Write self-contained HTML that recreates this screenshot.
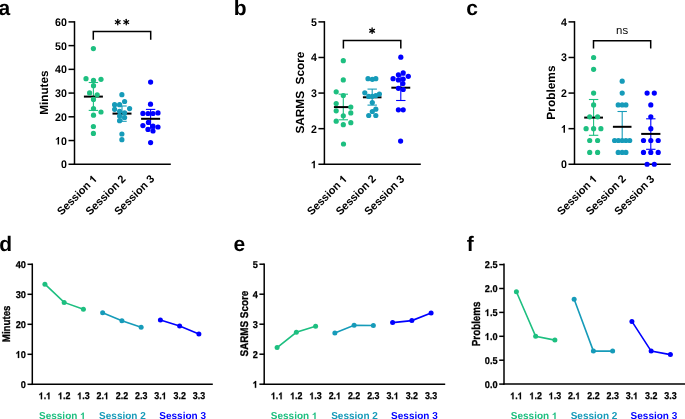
<!DOCTYPE html>
<html><head><meta charset="utf-8"><style>
html,body{margin:0;padding:0;background:#fff;}
body{width:685px;height:419px;overflow:hidden;}
svg{display:block;will-change:transform;text-rendering:geometricPrecision;font-family:"Liberation Sans",sans-serif;}
</style></head><body>
<svg width="685" height="419" viewBox="0 0 685 419">
<rect width="685" height="419" fill="#fff"/>
<text x="-1.40" y="14.80" font-size="21" text-anchor="start" font-weight="bold" fill="#000">a</text>
<text x="233.80" y="14.60" font-size="21" text-anchor="start" font-weight="bold" fill="#000">b</text>
<text x="466.30" y="14.60" font-size="21" text-anchor="start" font-weight="bold" fill="#000">c</text>
<text x="-0.70" y="251.00" font-size="21" text-anchor="start" font-weight="bold" fill="#000">d</text>
<text x="233.40" y="251.00" font-size="21" text-anchor="start" font-weight="bold" fill="#000">e</text>
<text x="466.80" y="250.80" font-size="21" text-anchor="start" font-weight="bold" fill="#000">f</text>
<line x1="74.50" y1="21.15" x2="74.50" y2="165.00" stroke="#000" stroke-width="1.5" stroke-linecap="butt"/>
<line x1="73.75" y1="164.25" x2="170.80" y2="164.25" stroke="#000" stroke-width="1.5" stroke-linecap="butt"/>
<line x1="68.50" y1="164.25" x2="74.50" y2="164.25" stroke="#000" stroke-width="1.5" stroke-linecap="butt"/>
<text x="0.00" y="0.00" font-size="11.0" text-anchor="end" font-weight="bold" fill="#000" transform="translate(66.90 168.25) scale(0.965 1)">0</text>
<line x1="68.50" y1="140.53" x2="74.50" y2="140.53" stroke="#000" stroke-width="1.5" stroke-linecap="butt"/>
<g transform="translate(66.90 144.53) scale(0.965 1)"><text x="0.00" y="0.00" font-size="11.0" text-anchor="end" font-weight="bold" fill="#000"> 0</text><path d="M770 0L490 0L490 1010C395 925 280 862 150 822L150 1065C225 1090 300 1132 380 1192C460 1252 515 1325 545 1409L770 1409Z" fill="#000" transform="translate(-12.250 0.000) scale(0.005371 -0.005371)"/></g>
<line x1="68.50" y1="116.80" x2="74.50" y2="116.80" stroke="#000" stroke-width="1.5" stroke-linecap="butt"/>
<text x="0.00" y="0.00" font-size="11.0" text-anchor="end" font-weight="bold" fill="#000" transform="translate(66.90 120.80) scale(0.965 1)">20</text>
<line x1="68.50" y1="93.08" x2="74.50" y2="93.08" stroke="#000" stroke-width="1.5" stroke-linecap="butt"/>
<text x="0.00" y="0.00" font-size="11.0" text-anchor="end" font-weight="bold" fill="#000" transform="translate(66.90 97.08) scale(0.965 1)">30</text>
<line x1="68.50" y1="69.35" x2="74.50" y2="69.35" stroke="#000" stroke-width="1.5" stroke-linecap="butt"/>
<text x="0.00" y="0.00" font-size="11.0" text-anchor="end" font-weight="bold" fill="#000" transform="translate(66.90 73.35) scale(0.965 1)">40</text>
<line x1="68.50" y1="45.62" x2="74.50" y2="45.62" stroke="#000" stroke-width="1.5" stroke-linecap="butt"/>
<text x="0.00" y="0.00" font-size="11.0" text-anchor="end" font-weight="bold" fill="#000" transform="translate(66.90 49.62) scale(0.965 1)">50</text>
<line x1="68.50" y1="21.90" x2="74.50" y2="21.90" stroke="#000" stroke-width="1.5" stroke-linecap="butt"/>
<text x="0.00" y="0.00" font-size="11.0" text-anchor="end" font-weight="bold" fill="#000" transform="translate(66.90 25.90) scale(0.965 1)">60</text>
<line x1="93.40" y1="82.50" x2="93.40" y2="110.40" stroke="#1dbf80" stroke-width="1.1" stroke-linecap="butt"/>
<line x1="88.70" y1="82.50" x2="98.10" y2="82.50" stroke="#1dbf80" stroke-width="1.1" stroke-linecap="butt"/>
<line x1="88.70" y1="110.40" x2="98.10" y2="110.40" stroke="#1dbf80" stroke-width="1.1" stroke-linecap="butt"/>
<line x1="83.90" y1="96.60" x2="102.90" y2="96.60" stroke="#000" stroke-width="2.0" stroke-linecap="butt"/>
<line x1="122.00" y1="106.00" x2="122.00" y2="121.30" stroke="#169bb9" stroke-width="1.1" stroke-linecap="butt"/>
<line x1="117.30" y1="106.00" x2="126.70" y2="106.00" stroke="#169bb9" stroke-width="1.1" stroke-linecap="butt"/>
<line x1="117.30" y1="121.30" x2="126.70" y2="121.30" stroke="#169bb9" stroke-width="1.1" stroke-linecap="butt"/>
<line x1="112.50" y1="113.60" x2="131.50" y2="113.60" stroke="#000" stroke-width="2.0" stroke-linecap="butt"/>
<line x1="150.60" y1="109.40" x2="150.60" y2="128.20" stroke="#0000ff" stroke-width="1.1" stroke-linecap="butt"/>
<line x1="145.90" y1="109.40" x2="155.30" y2="109.40" stroke="#0000ff" stroke-width="1.1" stroke-linecap="butt"/>
<line x1="145.90" y1="128.20" x2="155.30" y2="128.20" stroke="#0000ff" stroke-width="1.1" stroke-linecap="butt"/>
<line x1="141.10" y1="118.80" x2="160.10" y2="118.80" stroke="#000" stroke-width="2.0" stroke-linecap="butt"/>
<circle cx="93.40" cy="48.60" r="2.6" fill="#1dbf80"/>
<circle cx="86.00" cy="78.70" r="2.6" fill="#1dbf80"/>
<circle cx="101.00" cy="79.30" r="2.6" fill="#1dbf80"/>
<circle cx="93.50" cy="80.30" r="2.6" fill="#1dbf80"/>
<circle cx="93.50" cy="85.70" r="2.6" fill="#1dbf80"/>
<circle cx="89.60" cy="92.90" r="2.6" fill="#1dbf80"/>
<circle cx="97.20" cy="94.80" r="2.6" fill="#1dbf80"/>
<circle cx="93.50" cy="99.40" r="2.6" fill="#1dbf80"/>
<circle cx="93.50" cy="108.60" r="2.6" fill="#1dbf80"/>
<circle cx="101.00" cy="112.00" r="2.6" fill="#1dbf80"/>
<circle cx="93.50" cy="115.20" r="2.6" fill="#1dbf80"/>
<circle cx="93.40" cy="126.50" r="2.6" fill="#1dbf80"/>
<circle cx="93.40" cy="133.40" r="2.6" fill="#1dbf80"/>
<circle cx="121.90" cy="94.70" r="2.6" fill="#169bb9"/>
<circle cx="124.60" cy="101.50" r="2.6" fill="#169bb9"/>
<circle cx="114.60" cy="104.70" r="2.6" fill="#169bb9"/>
<circle cx="119.60" cy="104.70" r="2.6" fill="#169bb9"/>
<circle cx="129.60" cy="108.60" r="2.6" fill="#169bb9"/>
<circle cx="114.60" cy="109.30" r="2.6" fill="#169bb9"/>
<circle cx="119.60" cy="111.40" r="2.6" fill="#169bb9"/>
<circle cx="124.60" cy="112.90" r="2.6" fill="#169bb9"/>
<circle cx="119.60" cy="116.00" r="2.6" fill="#169bb9"/>
<circle cx="124.60" cy="117.50" r="2.6" fill="#169bb9"/>
<circle cx="119.60" cy="120.70" r="2.6" fill="#169bb9"/>
<circle cx="121.90" cy="134.00" r="2.6" fill="#169bb9"/>
<circle cx="121.90" cy="139.70" r="2.6" fill="#169bb9"/>
<circle cx="150.60" cy="82.10" r="2.6" fill="#0000ff"/>
<circle cx="150.50" cy="104.20" r="2.6" fill="#0000ff"/>
<circle cx="142.90" cy="113.40" r="2.6" fill="#0000ff"/>
<circle cx="148.00" cy="113.50" r="2.6" fill="#0000ff"/>
<circle cx="153.00" cy="113.50" r="2.6" fill="#0000ff"/>
<circle cx="158.00" cy="112.90" r="2.6" fill="#0000ff"/>
<circle cx="148.40" cy="122.40" r="2.6" fill="#0000ff"/>
<circle cx="142.90" cy="125.60" r="2.6" fill="#0000ff"/>
<circle cx="153.00" cy="126.20" r="2.6" fill="#0000ff"/>
<circle cx="158.00" cy="127.00" r="2.6" fill="#0000ff"/>
<circle cx="148.00" cy="129.40" r="2.6" fill="#0000ff"/>
<circle cx="153.00" cy="131.00" r="2.6" fill="#0000ff"/>
<circle cx="150.60" cy="142.60" r="2.6" fill="#0000ff"/>
<text x="48.00" y="92.58" font-size="11.75" text-anchor="middle" font-weight="bold" fill="#000" transform="rotate(-90 48.00 92.58)" dominant-baseline="auto">Minutes</text>
<g transform="rotate(-45 97.80 179.55)"><text x="97.80" y="179.55" font-size="11.0" text-anchor="end" font-weight="bold" fill="#000">Session  </text><path d="M770 0L490 0L490 1010C395 925 280 862 150 822L150 1065C225 1090 300 1132 380 1192C460 1252 515 1325 545 1409L770 1409Z" fill="#000" transform="translate(91.675 179.550) scale(0.005371 -0.005371)"/></g>
<text x="126.40" y="179.55" font-size="11.0" text-anchor="end" font-weight="bold" fill="#000" transform="rotate(-45 126.40 179.55)">Session 2</text>
<text x="155.00" y="179.55" font-size="11.0" text-anchor="end" font-weight="bold" fill="#000" transform="rotate(-45 155.00 179.55)">Session 3</text>
<polyline points="93.30,39.80 93.30,31.60 150.70,31.60 150.70,39.80" fill="none" stroke="#000" stroke-width="1.5" stroke-linejoin="miter"/>
<line x1="117.75" y1="19.35" x2="117.75" y2="24.85" stroke="#000" stroke-width="1.3" stroke-linecap="round"/>
<line x1="115.37" y1="20.73" x2="120.13" y2="23.48" stroke="#000" stroke-width="1.3" stroke-linecap="round"/>
<line x1="115.37" y1="23.48" x2="120.13" y2="20.73" stroke="#000" stroke-width="1.3" stroke-linecap="round"/>
<line x1="126.25" y1="19.35" x2="126.25" y2="24.85" stroke="#000" stroke-width="1.3" stroke-linecap="round"/>
<line x1="123.87" y1="20.73" x2="128.63" y2="23.48" stroke="#000" stroke-width="1.3" stroke-linecap="round"/>
<line x1="123.87" y1="23.48" x2="128.63" y2="20.73" stroke="#000" stroke-width="1.3" stroke-linecap="round"/>
<line x1="324.40" y1="21.15" x2="324.40" y2="165.00" stroke="#000" stroke-width="1.5" stroke-linecap="butt"/>
<line x1="323.65" y1="164.25" x2="420.80" y2="164.25" stroke="#000" stroke-width="1.5" stroke-linecap="butt"/>
<line x1="318.40" y1="164.25" x2="324.40" y2="164.25" stroke="#000" stroke-width="1.5" stroke-linecap="butt"/>
<g transform="translate(316.80 168.25) scale(0.965 1)"><text x="0.00" y="0.00" font-size="11.0" text-anchor="end" font-weight="bold" fill="#000"> </text><path d="M770 0L490 0L490 1010C395 925 280 862 150 822L150 1065C225 1090 300 1132 380 1192C460 1252 515 1325 545 1409L770 1409Z" fill="#000" transform="translate(-6.125 0.000) scale(0.005371 -0.005371)"/></g>
<line x1="318.40" y1="128.66" x2="324.40" y2="128.66" stroke="#000" stroke-width="1.5" stroke-linecap="butt"/>
<text x="0.00" y="0.00" font-size="11.0" text-anchor="end" font-weight="bold" fill="#000" transform="translate(316.80 132.66) scale(0.965 1)">2</text>
<line x1="318.40" y1="93.07" x2="324.40" y2="93.07" stroke="#000" stroke-width="1.5" stroke-linecap="butt"/>
<text x="0.00" y="0.00" font-size="11.0" text-anchor="end" font-weight="bold" fill="#000" transform="translate(316.80 97.07) scale(0.965 1)">3</text>
<line x1="318.40" y1="57.48" x2="324.40" y2="57.48" stroke="#000" stroke-width="1.5" stroke-linecap="butt"/>
<text x="0.00" y="0.00" font-size="11.0" text-anchor="end" font-weight="bold" fill="#000" transform="translate(316.80 61.48) scale(0.965 1)">4</text>
<line x1="318.40" y1="21.89" x2="324.40" y2="21.89" stroke="#000" stroke-width="1.5" stroke-linecap="butt"/>
<text x="0.00" y="0.00" font-size="11.0" text-anchor="end" font-weight="bold" fill="#000" transform="translate(316.80 25.89) scale(0.965 1)">5</text>
<line x1="343.30" y1="94.20" x2="343.30" y2="119.80" stroke="#1dbf80" stroke-width="1.1" stroke-linecap="butt"/>
<line x1="338.60" y1="94.20" x2="348.00" y2="94.20" stroke="#1dbf80" stroke-width="1.1" stroke-linecap="butt"/>
<line x1="338.60" y1="119.80" x2="348.00" y2="119.80" stroke="#1dbf80" stroke-width="1.1" stroke-linecap="butt"/>
<line x1="333.90" y1="107.10" x2="352.70" y2="107.10" stroke="#000" stroke-width="2.0" stroke-linecap="butt"/>
<line x1="372.20" y1="89.10" x2="372.20" y2="105.10" stroke="#169bb9" stroke-width="1.1" stroke-linecap="butt"/>
<line x1="367.50" y1="89.10" x2="376.90" y2="89.10" stroke="#169bb9" stroke-width="1.1" stroke-linecap="butt"/>
<line x1="367.50" y1="105.10" x2="376.90" y2="105.10" stroke="#169bb9" stroke-width="1.1" stroke-linecap="butt"/>
<line x1="362.90" y1="97.30" x2="381.50" y2="97.30" stroke="#000" stroke-width="2.0" stroke-linecap="butt"/>
<line x1="400.80" y1="75.00" x2="400.80" y2="100.50" stroke="#0000ff" stroke-width="1.1" stroke-linecap="butt"/>
<line x1="396.10" y1="75.00" x2="405.50" y2="75.00" stroke="#0000ff" stroke-width="1.1" stroke-linecap="butt"/>
<line x1="396.10" y1="100.50" x2="405.50" y2="100.50" stroke="#0000ff" stroke-width="1.1" stroke-linecap="butt"/>
<line x1="391.35" y1="87.70" x2="410.25" y2="87.70" stroke="#000" stroke-width="2.0" stroke-linecap="butt"/>
<circle cx="343.30" cy="60.70" r="2.6" fill="#1dbf80"/>
<circle cx="343.30" cy="79.90" r="2.6" fill="#1dbf80"/>
<circle cx="336.20" cy="91.80" r="2.6" fill="#1dbf80"/>
<circle cx="343.30" cy="95.50" r="2.6" fill="#1dbf80"/>
<circle cx="336.20" cy="103.50" r="2.6" fill="#1dbf80"/>
<circle cx="350.80" cy="107.10" r="2.6" fill="#1dbf80"/>
<circle cx="336.20" cy="110.80" r="2.6" fill="#1dbf80"/>
<circle cx="350.80" cy="112.90" r="2.6" fill="#1dbf80"/>
<circle cx="343.30" cy="115.80" r="2.6" fill="#1dbf80"/>
<circle cx="336.20" cy="121.20" r="2.6" fill="#1dbf80"/>
<circle cx="350.80" cy="122.70" r="2.6" fill="#1dbf80"/>
<circle cx="343.30" cy="124.70" r="2.6" fill="#1dbf80"/>
<circle cx="343.50" cy="144.00" r="2.6" fill="#1dbf80"/>
<circle cx="368.00" cy="78.70" r="2.6" fill="#169bb9"/>
<circle cx="372.30" cy="79.30" r="2.6" fill="#169bb9"/>
<circle cx="375.80" cy="78.70" r="2.6" fill="#169bb9"/>
<circle cx="364.80" cy="92.80" r="2.6" fill="#169bb9"/>
<circle cx="368.70" cy="96.40" r="2.6" fill="#169bb9"/>
<circle cx="372.30" cy="96.30" r="2.6" fill="#169bb9"/>
<circle cx="375.80" cy="95.60" r="2.6" fill="#169bb9"/>
<circle cx="379.40" cy="94.10" r="2.6" fill="#169bb9"/>
<circle cx="372.30" cy="102.60" r="2.6" fill="#169bb9"/>
<circle cx="375.80" cy="109.20" r="2.6" fill="#169bb9"/>
<circle cx="372.30" cy="111.50" r="2.6" fill="#169bb9"/>
<circle cx="368.70" cy="115.50" r="2.6" fill="#169bb9"/>
<circle cx="375.80" cy="115.50" r="2.6" fill="#169bb9"/>
<circle cx="400.80" cy="57.20" r="2.6" fill="#0000ff"/>
<circle cx="403.20" cy="72.80" r="2.6" fill="#0000ff"/>
<circle cx="398.40" cy="74.80" r="2.6" fill="#0000ff"/>
<circle cx="408.30" cy="76.30" r="2.6" fill="#0000ff"/>
<circle cx="393.10" cy="78.70" r="2.6" fill="#0000ff"/>
<circle cx="398.40" cy="79.90" r="2.6" fill="#0000ff"/>
<circle cx="403.20" cy="79.10" r="2.6" fill="#0000ff"/>
<circle cx="402.90" cy="83.50" r="2.6" fill="#0000ff"/>
<circle cx="398.40" cy="88.30" r="2.6" fill="#0000ff"/>
<circle cx="403.20" cy="89.50" r="2.6" fill="#0000ff"/>
<circle cx="398.40" cy="109.80" r="2.6" fill="#0000ff"/>
<circle cx="403.20" cy="109.80" r="2.6" fill="#0000ff"/>
<circle cx="400.60" cy="141.10" r="2.6" fill="#0000ff"/>
<text x="304.50" y="92.58" font-size="11.8" text-anchor="middle" font-weight="bold" fill="#000" transform="rotate(-90 304.50 92.58)" dominant-baseline="auto">SARMS  Score</text>
<g transform="rotate(-45 347.80 179.55)"><text x="347.80" y="179.55" font-size="11.0" text-anchor="end" font-weight="bold" fill="#000">Session  </text><path d="M770 0L490 0L490 1010C395 925 280 862 150 822L150 1065C225 1090 300 1132 380 1192C460 1252 515 1325 545 1409L770 1409Z" fill="#000" transform="translate(341.675 179.550) scale(0.005371 -0.005371)"/></g>
<text x="376.50" y="179.55" font-size="11.0" text-anchor="end" font-weight="bold" fill="#000" transform="rotate(-45 376.50 179.55)">Session 2</text>
<text x="405.20" y="179.55" font-size="11.0" text-anchor="end" font-weight="bold" fill="#000" transform="rotate(-45 405.20 179.55)">Session 3</text>
<polyline points="343.40,48.50 343.40,40.60 400.80,40.60 400.80,48.50" fill="none" stroke="#000" stroke-width="1.5" stroke-linejoin="miter"/>
<line x1="372.10" y1="27.95" x2="372.10" y2="33.45" stroke="#000" stroke-width="1.3" stroke-linecap="round"/>
<line x1="369.72" y1="29.32" x2="374.48" y2="32.07" stroke="#000" stroke-width="1.3" stroke-linecap="round"/>
<line x1="369.72" y1="32.07" x2="374.48" y2="29.32" stroke="#000" stroke-width="1.3" stroke-linecap="round"/>
<line x1="574.50" y1="21.15" x2="574.50" y2="165.00" stroke="#000" stroke-width="1.5" stroke-linecap="butt"/>
<line x1="573.75" y1="164.25" x2="670.80" y2="164.25" stroke="#000" stroke-width="1.5" stroke-linecap="butt"/>
<line x1="568.50" y1="164.25" x2="574.50" y2="164.25" stroke="#000" stroke-width="1.5" stroke-linecap="butt"/>
<text x="0.00" y="0.00" font-size="11.0" text-anchor="end" font-weight="bold" fill="#000" transform="translate(566.90 168.25) scale(0.965 1)">0</text>
<line x1="568.50" y1="128.66" x2="574.50" y2="128.66" stroke="#000" stroke-width="1.5" stroke-linecap="butt"/>
<g transform="translate(566.90 132.66) scale(0.965 1)"><text x="0.00" y="0.00" font-size="11.0" text-anchor="end" font-weight="bold" fill="#000"> </text><path d="M770 0L490 0L490 1010C395 925 280 862 150 822L150 1065C225 1090 300 1132 380 1192C460 1252 515 1325 545 1409L770 1409Z" fill="#000" transform="translate(-6.125 0.000) scale(0.005371 -0.005371)"/></g>
<line x1="568.50" y1="93.07" x2="574.50" y2="93.07" stroke="#000" stroke-width="1.5" stroke-linecap="butt"/>
<text x="0.00" y="0.00" font-size="11.0" text-anchor="end" font-weight="bold" fill="#000" transform="translate(566.90 97.07) scale(0.965 1)">2</text>
<line x1="568.50" y1="57.48" x2="574.50" y2="57.48" stroke="#000" stroke-width="1.5" stroke-linecap="butt"/>
<text x="0.00" y="0.00" font-size="11.0" text-anchor="end" font-weight="bold" fill="#000" transform="translate(566.90 61.48) scale(0.965 1)">3</text>
<line x1="568.50" y1="21.89" x2="574.50" y2="21.89" stroke="#000" stroke-width="1.5" stroke-linecap="butt"/>
<text x="0.00" y="0.00" font-size="11.0" text-anchor="end" font-weight="bold" fill="#000" transform="translate(566.90 25.89) scale(0.965 1)">4</text>
<line x1="593.60" y1="99.50" x2="593.60" y2="135.30" stroke="#1dbf80" stroke-width="1.1" stroke-linecap="butt"/>
<line x1="588.90" y1="99.50" x2="598.30" y2="99.50" stroke="#1dbf80" stroke-width="1.1" stroke-linecap="butt"/>
<line x1="588.90" y1="135.30" x2="598.30" y2="135.30" stroke="#1dbf80" stroke-width="1.1" stroke-linecap="butt"/>
<line x1="584.20" y1="117.60" x2="603.00" y2="117.60" stroke="#000" stroke-width="2.0" stroke-linecap="butt"/>
<line x1="622.20" y1="111.50" x2="622.20" y2="141.50" stroke="#169bb9" stroke-width="1.1" stroke-linecap="butt"/>
<line x1="617.50" y1="111.50" x2="626.90" y2="111.50" stroke="#169bb9" stroke-width="1.1" stroke-linecap="butt"/>
<line x1="617.50" y1="141.50" x2="626.90" y2="141.50" stroke="#169bb9" stroke-width="1.1" stroke-linecap="butt"/>
<line x1="612.90" y1="126.80" x2="631.50" y2="126.80" stroke="#000" stroke-width="2.0" stroke-linecap="butt"/>
<line x1="650.80" y1="118.80" x2="650.80" y2="149.30" stroke="#0000ff" stroke-width="1.1" stroke-linecap="butt"/>
<line x1="646.10" y1="118.80" x2="655.50" y2="118.80" stroke="#0000ff" stroke-width="1.1" stroke-linecap="butt"/>
<line x1="646.10" y1="149.30" x2="655.50" y2="149.30" stroke="#0000ff" stroke-width="1.1" stroke-linecap="butt"/>
<line x1="641.20" y1="133.90" x2="660.40" y2="133.90" stroke="#000" stroke-width="2.0" stroke-linecap="butt"/>
<circle cx="593.60" cy="57.48" r="2.6" fill="#1dbf80"/>
<circle cx="593.60" cy="69.34" r="2.6" fill="#1dbf80"/>
<circle cx="593.60" cy="93.07" r="2.6" fill="#1dbf80"/>
<circle cx="593.60" cy="104.93" r="2.6" fill="#1dbf80"/>
<circle cx="589.70" cy="116.80" r="2.6" fill="#1dbf80"/>
<circle cx="597.60" cy="116.80" r="2.6" fill="#1dbf80"/>
<circle cx="586.10" cy="128.66" r="2.6" fill="#1dbf80"/>
<circle cx="593.60" cy="128.66" r="2.6" fill="#1dbf80"/>
<circle cx="600.90" cy="128.66" r="2.6" fill="#1dbf80"/>
<circle cx="589.70" cy="140.52" r="2.6" fill="#1dbf80"/>
<circle cx="597.60" cy="140.52" r="2.6" fill="#1dbf80"/>
<circle cx="589.70" cy="152.39" r="2.6" fill="#1dbf80"/>
<circle cx="597.60" cy="152.39" r="2.6" fill="#1dbf80"/>
<circle cx="622.20" cy="81.21" r="2.6" fill="#169bb9"/>
<circle cx="622.20" cy="93.07" r="2.6" fill="#169bb9"/>
<circle cx="618.20" cy="104.93" r="2.6" fill="#169bb9"/>
<circle cx="622.20" cy="104.93" r="2.6" fill="#169bb9"/>
<circle cx="625.90" cy="104.93" r="2.6" fill="#169bb9"/>
<circle cx="614.60" cy="140.52" r="2.6" fill="#169bb9"/>
<circle cx="618.40" cy="140.52" r="2.6" fill="#169bb9"/>
<circle cx="622.20" cy="140.52" r="2.6" fill="#169bb9"/>
<circle cx="625.90" cy="140.52" r="2.6" fill="#169bb9"/>
<circle cx="629.70" cy="140.52" r="2.6" fill="#169bb9"/>
<circle cx="618.20" cy="152.39" r="2.6" fill="#169bb9"/>
<circle cx="622.20" cy="152.39" r="2.6" fill="#169bb9"/>
<circle cx="625.90" cy="152.39" r="2.6" fill="#169bb9"/>
<circle cx="647.10" cy="93.07" r="2.6" fill="#0000ff"/>
<circle cx="654.30" cy="93.07" r="2.6" fill="#0000ff"/>
<circle cx="650.80" cy="104.93" r="2.6" fill="#0000ff"/>
<circle cx="650.80" cy="116.80" r="2.6" fill="#0000ff"/>
<circle cx="650.80" cy="128.66" r="2.6" fill="#0000ff"/>
<circle cx="643.50" cy="140.52" r="2.6" fill="#0000ff"/>
<circle cx="650.80" cy="140.52" r="2.6" fill="#0000ff"/>
<circle cx="658.20" cy="140.52" r="2.6" fill="#0000ff"/>
<circle cx="643.50" cy="152.39" r="2.6" fill="#0000ff"/>
<circle cx="650.80" cy="152.39" r="2.6" fill="#0000ff"/>
<circle cx="658.20" cy="152.39" r="2.6" fill="#0000ff"/>
<circle cx="647.10" cy="164.25" r="2.6" fill="#0000ff"/>
<circle cx="654.30" cy="164.25" r="2.6" fill="#0000ff"/>
<text x="554.60" y="92.58" font-size="11.9" text-anchor="middle" font-weight="bold" fill="#000" transform="rotate(-90 554.60 92.58)" dominant-baseline="auto">Problems</text>
<g transform="rotate(-45 597.80 179.55)"><text x="597.80" y="179.55" font-size="11.0" text-anchor="end" font-weight="bold" fill="#000">Session  </text><path d="M770 0L490 0L490 1010C395 925 280 862 150 822L150 1065C225 1090 300 1132 380 1192C460 1252 515 1325 545 1409L770 1409Z" fill="#000" transform="translate(591.675 179.550) scale(0.005371 -0.005371)"/></g>
<text x="626.50" y="179.55" font-size="11.0" text-anchor="end" font-weight="bold" fill="#000" transform="rotate(-45 626.50 179.55)">Session 2</text>
<text x="655.20" y="179.55" font-size="11.0" text-anchor="end" font-weight="bold" fill="#000" transform="rotate(-45 655.20 179.55)">Session 3</text>
<polyline points="593.50,48.50 593.50,40.85 650.70,40.85 650.70,48.50" fill="none" stroke="#000" stroke-width="1.5" stroke-linejoin="miter"/>
<text x="622.10" y="33.60" font-size="11.4" text-anchor="middle" font-weight="normal" fill="#000">ns</text>
<line x1="32.30" y1="263.45" x2="32.30" y2="385.05" stroke="#000" stroke-width="1.5" stroke-linecap="butt"/>
<line x1="31.55" y1="384.30" x2="212.80" y2="384.30" stroke="#000" stroke-width="1.5" stroke-linecap="butt"/>
<line x1="27.50" y1="384.30" x2="32.30" y2="384.30" stroke="#000" stroke-width="1.5" stroke-linecap="butt"/>
<text x="0.00" y="0.00" font-size="9.9" text-anchor="end" font-weight="bold" fill="#000" transform="translate(25.90 387.90) scale(0.93 1)" stroke="#000" stroke-width="0.25">0</text>
<line x1="27.50" y1="354.30" x2="32.30" y2="354.30" stroke="#000" stroke-width="1.5" stroke-linecap="butt"/>
<g transform="translate(25.90 357.90) scale(0.93 1)"><text x="0.00" y="0.00" font-size="9.9" text-anchor="end" font-weight="bold" fill="#000" stroke="#000" stroke-width="0.25"> 0</text><path d="M770 0L490 0L490 1010C395 925 280 862 150 822L150 1065C225 1090 300 1132 380 1192C460 1252 515 1325 545 1409L770 1409Z" fill="#000" stroke="#000" stroke-width="51.7" transform="translate(-10.984 0.000) scale(0.004834 -0.004834)"/></g>
<line x1="27.50" y1="324.30" x2="32.30" y2="324.30" stroke="#000" stroke-width="1.5" stroke-linecap="butt"/>
<text x="0.00" y="0.00" font-size="9.9" text-anchor="end" font-weight="bold" fill="#000" transform="translate(25.90 327.90) scale(0.93 1)" stroke="#000" stroke-width="0.25">20</text>
<line x1="27.50" y1="294.30" x2="32.30" y2="294.30" stroke="#000" stroke-width="1.5" stroke-linecap="butt"/>
<text x="0.00" y="0.00" font-size="9.9" text-anchor="end" font-weight="bold" fill="#000" transform="translate(25.90 297.90) scale(0.93 1)" stroke="#000" stroke-width="0.25">30</text>
<line x1="27.50" y1="264.30" x2="32.30" y2="264.30" stroke="#000" stroke-width="1.5" stroke-linecap="butt"/>
<text x="0.00" y="0.00" font-size="9.9" text-anchor="end" font-weight="bold" fill="#000" transform="translate(25.90 267.90) scale(0.93 1)" stroke="#000" stroke-width="0.25">40</text>
<text x="0" y="0" font-size="11.0" text-anchor="middle" font-weight="bold" fill="#000" stroke="#000" stroke-width="0.3" transform="translate(9.90 323.85) rotate(-90) scale(0.88 1)">Minutes</text>
<polyline points="44.90,284.20 64.15,302.40 83.40,309.30" fill="none" stroke="#1dbf80" stroke-width="1.6" stroke-linejoin="miter"/>
<circle cx="44.90" cy="284.20" r="2.5" fill="#1dbf80"/>
<circle cx="64.15" cy="302.40" r="2.5" fill="#1dbf80"/>
<circle cx="83.40" cy="309.30" r="2.5" fill="#1dbf80"/>
<polyline points="102.65,312.70 121.90,320.70 141.15,327.30" fill="none" stroke="#169bb9" stroke-width="1.6" stroke-linejoin="miter"/>
<circle cx="102.65" cy="312.70" r="2.5" fill="#169bb9"/>
<circle cx="121.90" cy="320.70" r="2.5" fill="#169bb9"/>
<circle cx="141.15" cy="327.30" r="2.5" fill="#169bb9"/>
<polyline points="160.40,320.10 179.65,326.00 198.90,333.90" fill="none" stroke="#0000ff" stroke-width="1.6" stroke-linejoin="miter"/>
<circle cx="160.40" cy="320.10" r="2.5" fill="#0000ff"/>
<circle cx="179.65" cy="326.00" r="2.5" fill="#0000ff"/>
<circle cx="198.90" cy="333.90" r="2.5" fill="#0000ff"/>
<g transform="translate(44.90 399.20) scale(0.9 1)"><text x="0.00" y="0.00" font-size="9.9" text-anchor="middle" font-weight="bold" fill="#000" stroke="#000" stroke-width="0.25"> . </text><path d="M770 0L490 0L490 1010C395 925 280 862 150 822L150 1065C225 1090 300 1132 380 1192C460 1252 515 1325 545 1409L770 1409Z" fill="#000" stroke="#000" stroke-width="51.7" transform="translate(-6.867 0.000) scale(0.004834 -0.004834)"/><path d="M770 0L490 0L490 1010C395 925 280 862 150 822L150 1065C225 1090 300 1132 380 1192C460 1252 515 1325 545 1409L770 1409Z" fill="#000" stroke="#000" stroke-width="51.7" transform="translate(1.367 0.000) scale(0.004834 -0.004834)"/></g>
<g transform="translate(64.15 399.20) scale(0.9 1)"><text x="0.00" y="0.00" font-size="9.9" text-anchor="middle" font-weight="bold" fill="#000" stroke="#000" stroke-width="0.25"> .2</text><path d="M770 0L490 0L490 1010C395 925 280 862 150 822L150 1065C225 1090 300 1132 380 1192C460 1252 515 1325 545 1409L770 1409Z" fill="#000" stroke="#000" stroke-width="51.7" transform="translate(-6.867 0.000) scale(0.004834 -0.004834)"/></g>
<g transform="translate(83.40 399.20) scale(0.9 1)"><text x="0.00" y="0.00" font-size="9.9" text-anchor="middle" font-weight="bold" fill="#000" stroke="#000" stroke-width="0.25"> .3</text><path d="M770 0L490 0L490 1010C395 925 280 862 150 822L150 1065C225 1090 300 1132 380 1192C460 1252 515 1325 545 1409L770 1409Z" fill="#000" stroke="#000" stroke-width="51.7" transform="translate(-6.867 0.000) scale(0.004834 -0.004834)"/></g>
<g transform="translate(102.65 399.20) scale(0.9 1)"><text x="0.00" y="0.00" font-size="9.9" text-anchor="middle" font-weight="bold" fill="#000" stroke="#000" stroke-width="0.25">2. </text><path d="M770 0L490 0L490 1010C395 925 280 862 150 822L150 1065C225 1090 300 1132 380 1192C460 1252 515 1325 545 1409L770 1409Z" fill="#000" stroke="#000" stroke-width="51.7" transform="translate(1.367 0.000) scale(0.004834 -0.004834)"/></g>
<text x="0.00" y="0.00" font-size="9.9" text-anchor="middle" font-weight="bold" fill="#000" transform="translate(121.90 399.20) scale(0.9 1)" stroke="#000" stroke-width="0.25">2.2</text>
<text x="0.00" y="0.00" font-size="9.9" text-anchor="middle" font-weight="bold" fill="#000" transform="translate(141.15 399.20) scale(0.9 1)" stroke="#000" stroke-width="0.25">2.3</text>
<g transform="translate(160.40 399.20) scale(0.9 1)"><text x="0.00" y="0.00" font-size="9.9" text-anchor="middle" font-weight="bold" fill="#000" stroke="#000" stroke-width="0.25">3. </text><path d="M770 0L490 0L490 1010C395 925 280 862 150 822L150 1065C225 1090 300 1132 380 1192C460 1252 515 1325 545 1409L770 1409Z" fill="#000" stroke="#000" stroke-width="51.7" transform="translate(1.367 0.000) scale(0.004834 -0.004834)"/></g>
<text x="0.00" y="0.00" font-size="9.9" text-anchor="middle" font-weight="bold" fill="#000" transform="translate(179.65 399.20) scale(0.9 1)" stroke="#000" stroke-width="0.25">3.2</text>
<text x="0.00" y="0.00" font-size="9.9" text-anchor="middle" font-weight="bold" fill="#000" transform="translate(198.90 399.20) scale(0.9 1)" stroke="#000" stroke-width="0.25">3.3</text>
<text x="39.00" y="419.30" font-size="10.0" text-anchor="start" font-weight="bold" fill="#1dbf80">Session  </text><path d="M770 0L490 0L490 1010C395 925 280 862 150 822L150 1065C225 1090 300 1132 380 1192C460 1252 515 1325 545 1409L770 1409Z" fill="#1dbf80" transform="translate(80.125 419.300) scale(0.004883 -0.004883)"/>
<text x="99.10" y="419.30" font-size="10.0" text-anchor="start" font-weight="bold" fill="#169bb9">Session 2</text>
<text x="159.30" y="419.30" font-size="10.0" text-anchor="start" font-weight="bold" fill="#0000ff">Session 3</text>
<line x1="264.20" y1="263.45" x2="264.20" y2="384.95" stroke="#000" stroke-width="1.5" stroke-linecap="butt"/>
<line x1="263.45" y1="384.20" x2="445.20" y2="384.20" stroke="#000" stroke-width="1.5" stroke-linecap="butt"/>
<line x1="259.40" y1="384.20" x2="264.20" y2="384.20" stroke="#000" stroke-width="1.5" stroke-linecap="butt"/>
<g transform="translate(257.80 387.80) scale(0.93 1)"><text x="0.00" y="0.00" font-size="9.9" text-anchor="end" font-weight="bold" fill="#000" stroke="#000" stroke-width="0.25"> </text><path d="M770 0L490 0L490 1010C395 925 280 862 150 822L150 1065C225 1090 300 1132 380 1192C460 1252 515 1325 545 1409L770 1409Z" fill="#000" stroke="#000" stroke-width="51.7" transform="translate(-5.500 0.000) scale(0.004834 -0.004834)"/></g>
<line x1="259.40" y1="354.20" x2="264.20" y2="354.20" stroke="#000" stroke-width="1.5" stroke-linecap="butt"/>
<text x="0.00" y="0.00" font-size="9.9" text-anchor="end" font-weight="bold" fill="#000" transform="translate(257.80 357.80) scale(0.93 1)" stroke="#000" stroke-width="0.25">2</text>
<line x1="259.40" y1="324.20" x2="264.20" y2="324.20" stroke="#000" stroke-width="1.5" stroke-linecap="butt"/>
<text x="0.00" y="0.00" font-size="9.9" text-anchor="end" font-weight="bold" fill="#000" transform="translate(257.80 327.80) scale(0.93 1)" stroke="#000" stroke-width="0.25">3</text>
<line x1="259.40" y1="294.20" x2="264.20" y2="294.20" stroke="#000" stroke-width="1.5" stroke-linecap="butt"/>
<text x="0.00" y="0.00" font-size="9.9" text-anchor="end" font-weight="bold" fill="#000" transform="translate(257.80 297.80) scale(0.93 1)" stroke="#000" stroke-width="0.25">4</text>
<line x1="259.40" y1="264.20" x2="264.20" y2="264.20" stroke="#000" stroke-width="1.5" stroke-linecap="butt"/>
<text x="0.00" y="0.00" font-size="9.9" text-anchor="end" font-weight="bold" fill="#000" transform="translate(257.80 267.80) scale(0.93 1)" stroke="#000" stroke-width="0.25">5</text>
<text x="0" y="0" font-size="11.0" text-anchor="middle" font-weight="bold" fill="#000" stroke="#000" stroke-width="0.3" transform="translate(248.10 323.60) rotate(-90) scale(0.895 1)">SARMS Score</text>
<polyline points="277.10,347.60 296.35,332.30 315.60,326.30" fill="none" stroke="#1dbf80" stroke-width="1.6" stroke-linejoin="miter"/>
<circle cx="277.10" cy="347.60" r="2.5" fill="#1dbf80"/>
<circle cx="296.35" cy="332.30" r="2.5" fill="#1dbf80"/>
<circle cx="315.60" cy="326.30" r="2.5" fill="#1dbf80"/>
<polyline points="334.85,333.10 354.10,325.20 373.35,325.50" fill="none" stroke="#169bb9" stroke-width="1.6" stroke-linejoin="miter"/>
<circle cx="334.85" cy="333.10" r="2.5" fill="#169bb9"/>
<circle cx="354.10" cy="325.20" r="2.5" fill="#169bb9"/>
<circle cx="373.35" cy="325.50" r="2.5" fill="#169bb9"/>
<polyline points="392.60,322.60 411.85,320.60 431.10,312.90" fill="none" stroke="#0000ff" stroke-width="1.6" stroke-linejoin="miter"/>
<circle cx="392.60" cy="322.60" r="2.5" fill="#0000ff"/>
<circle cx="411.85" cy="320.60" r="2.5" fill="#0000ff"/>
<circle cx="431.10" cy="312.90" r="2.5" fill="#0000ff"/>
<g transform="translate(277.10 399.20) scale(0.9 1)"><text x="0.00" y="0.00" font-size="9.9" text-anchor="middle" font-weight="bold" fill="#000" stroke="#000" stroke-width="0.25"> . </text><path d="M770 0L490 0L490 1010C395 925 280 862 150 822L150 1065C225 1090 300 1132 380 1192C460 1252 515 1325 545 1409L770 1409Z" fill="#000" stroke="#000" stroke-width="51.7" transform="translate(-6.867 0.000) scale(0.004834 -0.004834)"/><path d="M770 0L490 0L490 1010C395 925 280 862 150 822L150 1065C225 1090 300 1132 380 1192C460 1252 515 1325 545 1409L770 1409Z" fill="#000" stroke="#000" stroke-width="51.7" transform="translate(1.367 0.000) scale(0.004834 -0.004834)"/></g>
<g transform="translate(296.35 399.20) scale(0.9 1)"><text x="0.00" y="0.00" font-size="9.9" text-anchor="middle" font-weight="bold" fill="#000" stroke="#000" stroke-width="0.25"> .2</text><path d="M770 0L490 0L490 1010C395 925 280 862 150 822L150 1065C225 1090 300 1132 380 1192C460 1252 515 1325 545 1409L770 1409Z" fill="#000" stroke="#000" stroke-width="51.7" transform="translate(-6.867 0.000) scale(0.004834 -0.004834)"/></g>
<g transform="translate(315.60 399.20) scale(0.9 1)"><text x="0.00" y="0.00" font-size="9.9" text-anchor="middle" font-weight="bold" fill="#000" stroke="#000" stroke-width="0.25"> .3</text><path d="M770 0L490 0L490 1010C395 925 280 862 150 822L150 1065C225 1090 300 1132 380 1192C460 1252 515 1325 545 1409L770 1409Z" fill="#000" stroke="#000" stroke-width="51.7" transform="translate(-6.867 0.000) scale(0.004834 -0.004834)"/></g>
<g transform="translate(334.85 399.20) scale(0.9 1)"><text x="0.00" y="0.00" font-size="9.9" text-anchor="middle" font-weight="bold" fill="#000" stroke="#000" stroke-width="0.25">2. </text><path d="M770 0L490 0L490 1010C395 925 280 862 150 822L150 1065C225 1090 300 1132 380 1192C460 1252 515 1325 545 1409L770 1409Z" fill="#000" stroke="#000" stroke-width="51.7" transform="translate(1.367 0.000) scale(0.004834 -0.004834)"/></g>
<text x="0.00" y="0.00" font-size="9.9" text-anchor="middle" font-weight="bold" fill="#000" transform="translate(354.10 399.20) scale(0.9 1)" stroke="#000" stroke-width="0.25">2.2</text>
<text x="0.00" y="0.00" font-size="9.9" text-anchor="middle" font-weight="bold" fill="#000" transform="translate(373.35 399.20) scale(0.9 1)" stroke="#000" stroke-width="0.25">2.3</text>
<g transform="translate(392.60 399.20) scale(0.9 1)"><text x="0.00" y="0.00" font-size="9.9" text-anchor="middle" font-weight="bold" fill="#000" stroke="#000" stroke-width="0.25">3. </text><path d="M770 0L490 0L490 1010C395 925 280 862 150 822L150 1065C225 1090 300 1132 380 1192C460 1252 515 1325 545 1409L770 1409Z" fill="#000" stroke="#000" stroke-width="51.7" transform="translate(1.367 0.000) scale(0.004834 -0.004834)"/></g>
<text x="0.00" y="0.00" font-size="9.9" text-anchor="middle" font-weight="bold" fill="#000" transform="translate(411.85 399.20) scale(0.9 1)" stroke="#000" stroke-width="0.25">3.2</text>
<text x="0.00" y="0.00" font-size="9.9" text-anchor="middle" font-weight="bold" fill="#000" transform="translate(431.10 399.20) scale(0.9 1)" stroke="#000" stroke-width="0.25">3.3</text>
<text x="270.80" y="419.30" font-size="10.0" text-anchor="start" font-weight="bold" fill="#1dbf80">Session  </text><path d="M770 0L490 0L490 1010C395 925 280 862 150 822L150 1065C225 1090 300 1132 380 1192C460 1252 515 1325 545 1409L770 1409Z" fill="#1dbf80" transform="translate(311.925 419.300) scale(0.004883 -0.004883)"/>
<text x="331.20" y="419.30" font-size="10.0" text-anchor="start" font-weight="bold" fill="#169bb9">Session 2</text>
<text x="391.10" y="419.30" font-size="10.0" text-anchor="start" font-weight="bold" fill="#0000ff">Session 3</text>
<line x1="504.00" y1="263.45" x2="504.00" y2="384.85" stroke="#000" stroke-width="1.5" stroke-linecap="butt"/>
<line x1="503.25" y1="384.10" x2="685.50" y2="384.10" stroke="#000" stroke-width="1.5" stroke-linecap="butt"/>
<line x1="499.20" y1="384.10" x2="504.00" y2="384.10" stroke="#000" stroke-width="1.5" stroke-linecap="butt"/>
<text x="0.00" y="0.00" font-size="9.9" text-anchor="end" font-weight="bold" fill="#000" transform="translate(497.60 387.70) scale(0.93 1)" stroke="#000" stroke-width="0.25">0.0</text>
<line x1="499.20" y1="360.20" x2="504.00" y2="360.20" stroke="#000" stroke-width="1.5" stroke-linecap="butt"/>
<text x="0.00" y="0.00" font-size="9.9" text-anchor="end" font-weight="bold" fill="#000" transform="translate(497.60 363.80) scale(0.93 1)" stroke="#000" stroke-width="0.25">0.5</text>
<line x1="499.20" y1="336.30" x2="504.00" y2="336.30" stroke="#000" stroke-width="1.5" stroke-linecap="butt"/>
<g transform="translate(497.60 339.90) scale(0.93 1)"><text x="0.00" y="0.00" font-size="9.9" text-anchor="end" font-weight="bold" fill="#000" stroke="#000" stroke-width="0.25"> .0</text><path d="M770 0L490 0L490 1010C395 925 280 862 150 822L150 1065C225 1090 300 1132 380 1192C460 1252 515 1325 545 1409L770 1409Z" fill="#000" stroke="#000" stroke-width="51.7" transform="translate(-13.734 0.000) scale(0.004834 -0.004834)"/></g>
<line x1="499.20" y1="312.40" x2="504.00" y2="312.40" stroke="#000" stroke-width="1.5" stroke-linecap="butt"/>
<g transform="translate(497.60 316.00) scale(0.93 1)"><text x="0.00" y="0.00" font-size="9.9" text-anchor="end" font-weight="bold" fill="#000" stroke="#000" stroke-width="0.25"> .5</text><path d="M770 0L490 0L490 1010C395 925 280 862 150 822L150 1065C225 1090 300 1132 380 1192C460 1252 515 1325 545 1409L770 1409Z" fill="#000" stroke="#000" stroke-width="51.7" transform="translate(-13.734 0.000) scale(0.004834 -0.004834)"/></g>
<line x1="499.20" y1="288.50" x2="504.00" y2="288.50" stroke="#000" stroke-width="1.5" stroke-linecap="butt"/>
<text x="0.00" y="0.00" font-size="9.9" text-anchor="end" font-weight="bold" fill="#000" transform="translate(497.60 292.10) scale(0.93 1)" stroke="#000" stroke-width="0.25">2.0</text>
<line x1="499.20" y1="264.60" x2="504.00" y2="264.60" stroke="#000" stroke-width="1.5" stroke-linecap="butt"/>
<text x="0.00" y="0.00" font-size="9.9" text-anchor="end" font-weight="bold" fill="#000" transform="translate(497.60 268.20) scale(0.93 1)" stroke="#000" stroke-width="0.25">2.5</text>
<text x="0" y="0" font-size="11.6" text-anchor="middle" font-weight="bold" fill="#000" stroke="#000" stroke-width="0.3" transform="translate(480.40 323.85) rotate(-90) scale(0.845 1)">Problems</text>
<polyline points="516.40,291.80 535.65,336.30 554.90,340.10" fill="none" stroke="#1dbf80" stroke-width="1.6" stroke-linejoin="miter"/>
<circle cx="516.40" cy="291.80" r="2.5" fill="#1dbf80"/>
<circle cx="535.65" cy="336.30" r="2.5" fill="#1dbf80"/>
<circle cx="554.90" cy="340.10" r="2.5" fill="#1dbf80"/>
<polyline points="574.15,299.20 593.40,351.10 612.65,351.10" fill="none" stroke="#169bb9" stroke-width="1.6" stroke-linejoin="miter"/>
<circle cx="574.15" cy="299.20" r="2.5" fill="#169bb9"/>
<circle cx="593.40" cy="351.10" r="2.5" fill="#169bb9"/>
<circle cx="612.65" cy="351.10" r="2.5" fill="#169bb9"/>
<polyline points="631.90,321.40 651.15,351.10 670.40,354.60" fill="none" stroke="#0000ff" stroke-width="1.6" stroke-linejoin="miter"/>
<circle cx="631.90" cy="321.40" r="2.5" fill="#0000ff"/>
<circle cx="651.15" cy="351.10" r="2.5" fill="#0000ff"/>
<circle cx="670.40" cy="354.60" r="2.5" fill="#0000ff"/>
<g transform="translate(516.40 399.20) scale(0.9 1)"><text x="0.00" y="0.00" font-size="9.9" text-anchor="middle" font-weight="bold" fill="#000" stroke="#000" stroke-width="0.25"> . </text><path d="M770 0L490 0L490 1010C395 925 280 862 150 822L150 1065C225 1090 300 1132 380 1192C460 1252 515 1325 545 1409L770 1409Z" fill="#000" stroke="#000" stroke-width="51.7" transform="translate(-6.867 0.000) scale(0.004834 -0.004834)"/><path d="M770 0L490 0L490 1010C395 925 280 862 150 822L150 1065C225 1090 300 1132 380 1192C460 1252 515 1325 545 1409L770 1409Z" fill="#000" stroke="#000" stroke-width="51.7" transform="translate(1.367 0.000) scale(0.004834 -0.004834)"/></g>
<g transform="translate(535.65 399.20) scale(0.9 1)"><text x="0.00" y="0.00" font-size="9.9" text-anchor="middle" font-weight="bold" fill="#000" stroke="#000" stroke-width="0.25"> .2</text><path d="M770 0L490 0L490 1010C395 925 280 862 150 822L150 1065C225 1090 300 1132 380 1192C460 1252 515 1325 545 1409L770 1409Z" fill="#000" stroke="#000" stroke-width="51.7" transform="translate(-6.867 0.000) scale(0.004834 -0.004834)"/></g>
<g transform="translate(554.90 399.20) scale(0.9 1)"><text x="0.00" y="0.00" font-size="9.9" text-anchor="middle" font-weight="bold" fill="#000" stroke="#000" stroke-width="0.25"> .3</text><path d="M770 0L490 0L490 1010C395 925 280 862 150 822L150 1065C225 1090 300 1132 380 1192C460 1252 515 1325 545 1409L770 1409Z" fill="#000" stroke="#000" stroke-width="51.7" transform="translate(-6.867 0.000) scale(0.004834 -0.004834)"/></g>
<g transform="translate(574.15 399.20) scale(0.9 1)"><text x="0.00" y="0.00" font-size="9.9" text-anchor="middle" font-weight="bold" fill="#000" stroke="#000" stroke-width="0.25">2. </text><path d="M770 0L490 0L490 1010C395 925 280 862 150 822L150 1065C225 1090 300 1132 380 1192C460 1252 515 1325 545 1409L770 1409Z" fill="#000" stroke="#000" stroke-width="51.7" transform="translate(1.367 0.000) scale(0.004834 -0.004834)"/></g>
<text x="0.00" y="0.00" font-size="9.9" text-anchor="middle" font-weight="bold" fill="#000" transform="translate(593.40 399.20) scale(0.9 1)" stroke="#000" stroke-width="0.25">2.2</text>
<text x="0.00" y="0.00" font-size="9.9" text-anchor="middle" font-weight="bold" fill="#000" transform="translate(612.65 399.20) scale(0.9 1)" stroke="#000" stroke-width="0.25">2.3</text>
<g transform="translate(631.90 399.20) scale(0.9 1)"><text x="0.00" y="0.00" font-size="9.9" text-anchor="middle" font-weight="bold" fill="#000" stroke="#000" stroke-width="0.25">3. </text><path d="M770 0L490 0L490 1010C395 925 280 862 150 822L150 1065C225 1090 300 1132 380 1192C460 1252 515 1325 545 1409L770 1409Z" fill="#000" stroke="#000" stroke-width="51.7" transform="translate(1.367 0.000) scale(0.004834 -0.004834)"/></g>
<text x="0.00" y="0.00" font-size="9.9" text-anchor="middle" font-weight="bold" fill="#000" transform="translate(651.15 399.20) scale(0.9 1)" stroke="#000" stroke-width="0.25">3.2</text>
<text x="0.00" y="0.00" font-size="9.9" text-anchor="middle" font-weight="bold" fill="#000" transform="translate(670.40 399.20) scale(0.9 1)" stroke="#000" stroke-width="0.25">3.3</text>
<text x="510.80" y="419.30" font-size="10.0" text-anchor="start" font-weight="bold" fill="#1dbf80">Session  </text><path d="M770 0L490 0L490 1010C395 925 280 862 150 822L150 1065C225 1090 300 1132 380 1192C460 1252 515 1325 545 1409L770 1409Z" fill="#1dbf80" transform="translate(551.925 419.300) scale(0.004883 -0.004883)"/>
<text x="570.70" y="419.30" font-size="10.0" text-anchor="start" font-weight="bold" fill="#169bb9">Session 2</text>
<text x="630.60" y="419.30" font-size="10.0" text-anchor="start" font-weight="bold" fill="#0000ff">Session 3</text>
</svg>
</body></html>
